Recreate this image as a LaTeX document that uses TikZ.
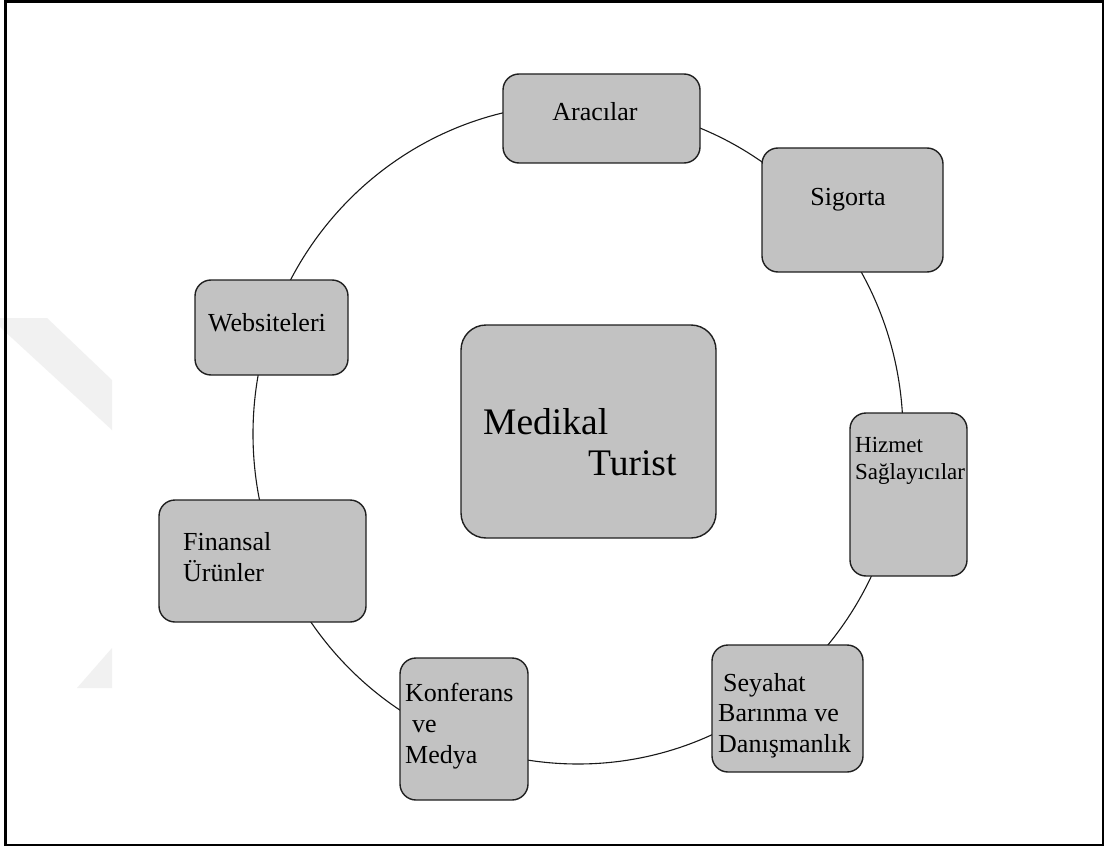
\documentclass[tikz,border=0pt]{standalone}
\usepackage{fontspec}
\setmainfont{Liberation Serif}
\definecolor{boxfill}{gray}{0.76}
\definecolor{boxline}{gray}{0.12}
\definecolor{markgray}{gray}{0.945}
\begin{document}
\begin{tikzpicture}[x=1pt,y=-1pt,
  box/.style={draw=boxline, fill=boxfill, line width=1.4pt, rounded corners=16pt, inner sep=0pt},
  lbl/.style={inner sep=0pt, align=left, anchor=base west, font=\fontsize{26}{31}\selectfont},
  ringline/.style={draw=black!90, line width=1.1pt}]

% page background and bounding box
\fill[white] (0,0) rectangle (1106,848);
\useasboundingbox (0,0) rectangle (1106,848);

% faint chevron mark on the left edge
\fill[markgray] (0,318) -- (47,318) -- (112,380) -- (112,430) -- (0,327) -- cycle;
\fill[markgray] (77,688) -- (112,648) -- (112,688) -- cycle;

% frame
\draw[line width=2.6pt] (5.3,1.3) rectangle (1103,845);

% ring joining the partner boxes
\coordinate (ring) at (578,434);
\draw[ringline] (ring) ellipse [x radius=325pt, y radius=330pt];

% central box
\node[box, rounded corners=25pt, minimum width=255pt, minimum height=213pt] (medikal) at (588.5,431.5) {};
\node[lbl, font=\fontsize{37.5}{44}\selectfont] (medikal-a) at (483,434) {Medikal};
\node[lbl, font=\fontsize{37.5}{44}\selectfont] (medikal-b) at (588,475) {Turist};

% partner boxes around the ring (multi-line labels are placed by their last baseline)
\node[box, minimum width=197pt, minimum height=89pt] (aracilar) at (601.5,118.5) {};
\node[lbl, anchor=base] (aracilar-t) at (595,121) {Aracılar};

\node[box, minimum width=181pt, minimum height=124pt] (sigorta) at (852.5,210) {};
\node[lbl, anchor=base] (sigorta-t) at (848,205) {Sigorta};

\node[box, minimum width=117pt, minimum height=163pt] (hizmet) at (908.5,494.5) {};
\node[lbl, font=\fontsize{23}{27}\selectfont] (hizmet-t) at (855,479) {Hizmet\\Sağlayıcılar};

\node[box, minimum width=151pt, minimum height=127pt] (seyahat) at (787.5,708.5) {};
\node[lbl, font=\fontsize{26}{30.5}\selectfont] (seyahat-t) at (718,752) {\hspace*{5pt}Seyahat\\Barınma ve\\Danışmanlık};

\node[box, minimum width=128pt, minimum height=142pt] (konferans) at (464,729) {};
\node[lbl] (konferans-t) at (405,763) {Konferans\\\hspace*{7pt}ve\\Medya};

\node[box, minimum width=207pt, minimum height=122pt] (finansal) at (262.5,561) {};
\node[lbl] (finansal-t) at (183,581) {Finansal\\Ürünler};

\node[box, minimum width=153pt, minimum height=95pt] (websiteleri) at (271.5,327.5) {};
\node[lbl, anchor=base] (websiteleri-t) at (267,331) {Websiteleri};
\end{tikzpicture}
\end{document}
